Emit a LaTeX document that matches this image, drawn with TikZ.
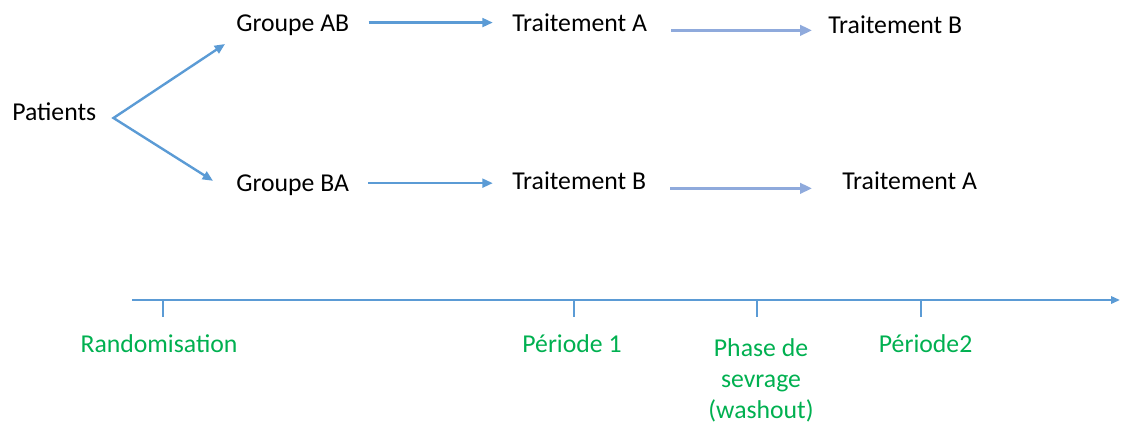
\documentclass[tikz,border=0pt]{standalone}
\usepackage{fontspec}
\setmainfont{Carlito}
\usetikzlibrary{arrows.meta}
\definecolor{bleu}{HTML}{5B9BD5}
\definecolor{bleuclair}{HTML}{8FAADC}
\definecolor{vert}{HTML}{00B050}
\tikzset{
  txt/.style={inner sep=0pt, font=\fontsize{18.3}{22}\selectfont, text height=15.7pt, text depth=3.7pt},
  etiq/.style={inner sep=0pt, font=\fontsize{18.3}{22}\selectfont, text=vert},
  fleche/.style={draw=bleu, line width=1.7pt, -{Triangle[length=2.6mm,width=2.2mm]}},
  fourche/.style={draw=bleu, line width=1.7pt, {Triangle[length=2.6mm,width=2.2mm]}-{Triangle[length=2.6mm,width=2.2mm]}},
  flechebis/.style={draw=bleuclair, line width=2.5pt, -{Triangle[length=3mm,width=2.6mm]}},
  axe/.style={draw=bleu, line width=1.8pt, -{Triangle[length=2.2mm,width=1.8mm]}},
  graduation/.style={draw=bleu, line width=1.8pt}
}

\begin{document}
\begin{tikzpicture}
\useasboundingbox (0,0) rectangle (28.025,-10.65);
\node[txt, anchor=base west] (pat) at (0.30,-3.00) {Patients};
\node[txt, anchor=base west] (gab) at (5.90,-0.775) {Groupe AB};
\node[txt, anchor=base west] (gba) at (5.90,-4.79) {Groupe BA};
\node[txt, anchor=base west] (ta1) at (12.80,-0.79) {Traitement A};
\node[txt, anchor=base west] (tb1) at (12.80,-4.74) {Traitement B};
\node[txt, anchor=base west] (tb2) at (20.70,-0.83) {Traitement B};
\node[txt, anchor=base west] (ta2) at (21.05,-4.74) {Traitement A};
% randomisation en deux groupes
\coordinate (fork) at ([xshift=0.425cm,yshift=0.05cm]pat.base east);
\draw[fourche] ([xshift=-0.275cm,yshift=-0.325cm]gab.base west) -- (fork)
  -- ([xshift=-0.575cm,yshift=0.27cm]gba.base west);
% premiere periode
\draw[fleche] ([xshift=0.48cm]gab.east) -- ([xshift=-0.48cm]ta1.west |- gab.east);
\draw[fleche] ([xshift=0.48cm]gba.east) -- ([xshift=-0.48cm]tb1.west |- gba.east);
% seconde periode
\draw[flechebis] ([xshift=0.6cm,yshift=-0.18cm]ta1.east) -- ([xshift=-0.4cm,yshift=-0.18cm]ta1.east -| tb2.west);
\draw[flechebis] ([xshift=0.6cm,yshift=-0.18cm]tb1.east) -- ([xshift=-0.75cm,yshift=-0.18cm]tb1.east -| ta2.west);
% axe du temps
\coordinate (ax0) at (3.30,-7.5);
\coordinate (ax1) at (28.0,-7.5);
\draw[axe] (ax0) -- (ax1);
\foreach \x/\lx/\nom/\texte in {4.075/3.975/rando/Randomisation, 14.35/14.3/per1/Période 1, 23.025/23.14/per2/Période2}
{
  \draw[graduation] (\x,-7.5) -- (\x,-7.925);
  \node[etiq, anchor=base] (\nom) at (\lx,-8.8) {\texte};
}
\draw[graduation] (18.925,-7.5) -- (18.925,-7.925);
\node[etiq, anchor=north, align=center] (sevrage) at (19.025,-8.45) {Phase de\\sevrage\\(washout)};
\end{tikzpicture}
\end{document}
